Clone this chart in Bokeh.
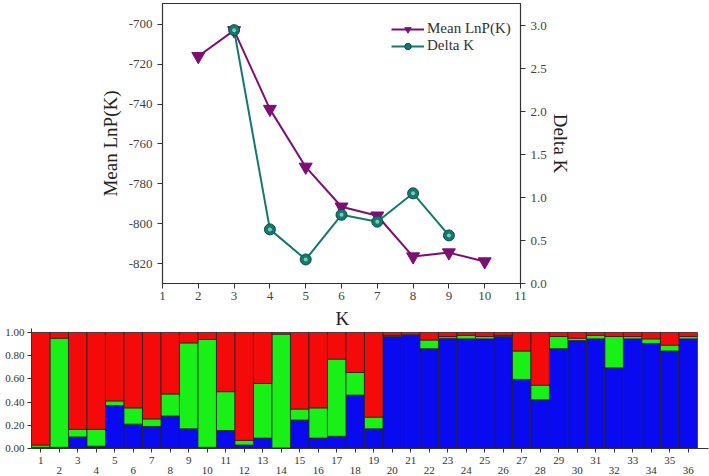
from bokeh.plotting import figure
from bokeh.layouts import column
from bokeh.models import (Range1d, LinearAxis, FixedTicker, NumeralTickFormatter,
                          ColumnDataSource, Legend, LegendItem)
from bokeh.embed import file_html
from bokeh.resources import INLINE

# ---------------- data ----------------
k_values = [2, 3, 4, 5, 6, 7, 8, 9, 10]
mean_lnp = [-716, -703, -742.5, -771.5, -791.5, -796, -816.5, -814.5, -819]
delta_k_k = [3, 4, 5, 6, 7, 8, 9]
delta_k = [2.95, 0.63, 0.28, 0.80, 0.72, 1.05, 0.56]
lnp_ticks = [-820, -800, -780, -760, -740, -720, -700]
dk_ticks = [0, 0.5, 1, 1.5, 2, 2.5, 3]

samples = list(range(1, 37))
blue = [0.01, 0.01, 0.10, 0.02, 0.37, 0.21, 0.19, 0.28, 0.17, 0.01, 0.155, 0.03,
        0.09, 0.005, 0.245, 0.09, 0.105, 0.46, 0.17, 0.965, 0.975, 0.86, 0.95, 0.945,
        0.945, 0.965, 0.595, 0.42, 0.86, 0.93, 0.945, 0.695, 0.945, 0.905, 0.84, 0.945]
green = [0.02, 0.94, 0.065, 0.145, 0.04, 0.14, 0.065, 0.19, 0.74, 0.93, 0.335, 0.04,
         0.47, 0.98, 0.095, 0.26, 0.665, 0.195, 0.10, 0.01, 0.005, 0.075, 0.015, 0.03,
         0.02, 0.01, 0.245, 0.125, 0.105, 0.02, 0.03, 0.27, 0.02, 0.04, 0.05, 0.02]
red = [round(1 - b - g, 3) for b, g in zip(blue, green)]

SERIF = "Liberation Serif"
PURPLE = "#7d0f73"
TEAL = "#14786c"

# ---------------- top chart ----------------
p = figure(width=709, height=305, output_backend="svg", toolbar_location=None,
           x_range=Range1d(1, 11), y_range=Range1d(-830, -689.5),
           min_border_left=162, min_border_right=189, min_border_top=3, min_border_bottom=22)
p.frame_align = False
p.grid.visible = False
p.outline_line_color = "#333333"
p.outline_line_width = 1.2
p.extra_y_ranges = {"dk": Range1d(0, 3.26)}

ax = p.xaxis[0]
ax.ticker = FixedTicker(ticks=list(range(1, 12)))
ay = p.yaxis[0]
ay.ticker = FixedTicker(ticks=lnp_ticks)
ay.major_label_overrides = {t: str(t) for t in lnp_ticks}
ay.axis_label = "Mean LnP(K)"
ra = LinearAxis(y_range_name="dk", ticker=FixedTicker(ticks=dk_ticks),
                formatter=NumeralTickFormatter(format="0.0"), axis_label="Delta K")
p.add_layout(ra, "right")
for a in [ax, ay, ra]:
    a.major_label_text_font = SERIF
    a.major_label_text_font_size = "13px"
    a.major_label_text_color = "#444444"
    a.axis_label_text_font = SERIF
    a.axis_label_text_font_size = "19px"
    a.axis_label_text_font_style = "normal"
    a.axis_label_text_color = "#222222"
    a.minor_tick_line_color = None
    a.major_tick_in = 0
    a.major_tick_out = 5
    a.axis_line_color = "#333333"
    a.major_tick_line_color = "#333333"
ax.major_label_standoff = 3
ay.axis_label_standoff = 5
ra.axis_label_standoff = 0

l1 = p.line(k_values, mean_lnp, line_color=PURPLE, line_width=2)
s1 = p.scatter(k_values, mean_lnp, marker="inverted_triangle", size=13,
               fill_color=PURPLE, line_color=PURPLE)
l2 = p.line(delta_k_k, delta_k, line_color=TEAL, line_width=2, y_range_name="dk")
s2 = p.scatter(delta_k_k, delta_k, marker="circle", size=11, fill_color=TEAL,
               line_color="#0c4f47", y_range_name="dk")
p.scatter(delta_k_k, delta_k, marker="circle", size=4, fill_color="#7fc9bd",
          line_color=None, y_range_name="dk")

legend = Legend(items=[LegendItem(label="Mean LnP(K)", renderers=[l1, s1]),
                       LegendItem(label="Delta K", renderers=[l2, s2])],
                location=(229, 229), border_line_color=None, background_fill_alpha=0,
                label_text_font=SERIF, label_text_font_size="15px",
                label_text_color="#333333", glyph_width=33, glyph_height=16,
                label_height=16, spacing=0, padding=4, margin=0, label_standoff=3)
p.add_layout(legend)

# ---------------- bottom chart ----------------
q = figure(width=709, height=171, output_backend="svg", toolbar_location=None,
           x_range=Range1d(0.5, 37.1), y_range=Range1d(0, 1.034),
           min_border_left=31, min_border_right=1, min_border_top=21, min_border_bottom=27,
           title="K")
q.frame_align = False
q.title.align = "left"
q.title.offset = 304
q.title.standoff = 0
q.title.text_font = SERIF
q.title.text_font_size = "19px"
q.title.text_font_style = "normal"
q.title.text_color = "#222222"
q.grid.visible = False
q.outline_line_color = None

src = ColumnDataSource(dict(x=samples, blue=blue, green=green, red=red))
q.vbar_stack(["blue", "green", "red"], x="x", width=1, source=src,
             color=["#0a0af0", "#18f018", "#f50a0a"], line_color="#222222", line_width=0.8)

qx = q.xaxis[0]
qx.ticker = FixedTicker(ticks=samples)
qx.major_label_overrides = {i: (str(i) if i % 2 == 1 else "") for i in samples}
qx2 = LinearAxis(ticker=FixedTicker(ticks=[i for i in samples if i % 2 == 0]))
q.add_layout(qx2, "below")
qy = q.yaxis[0]
qy.ticker = FixedTicker(ticks=[0, 0.2, 0.4, 0.6, 0.8, 1.0])
qy.formatter = NumeralTickFormatter(format="0.00")
for a in [qx, qx2, qy]:
    a.major_label_text_font = SERIF
    a.major_label_text_font_size = "11px"
    a.major_label_text_color = "#333333"
    a.minor_tick_line_color = None
    a.major_tick_in = 0
    a.major_tick_out = 4
    a.axis_line_color = "#333333"
    a.major_tick_line_color = "#333333"
qx2.major_tick_out = 0
qx2.major_tick_line_color = None
qx2.axis_line_color = None
qx2.major_label_standoff = 0
qx.major_label_standoff = 4
qy.major_label_standoff = 3

layout = column(p, q, spacing=0)
open("out.html", "w").write(file_html(layout, INLINE))
